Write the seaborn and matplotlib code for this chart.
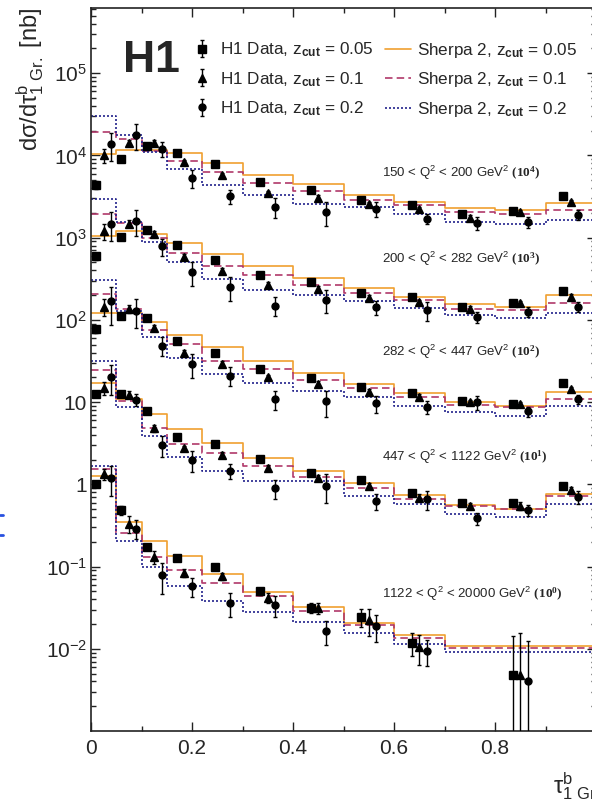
import numpy as np
import matplotlib
matplotlib.use("Agg")
import matplotlib.pyplot as plt
from matplotlib.lines import Line2D
from matplotlib.ticker import (FixedLocator, FixedFormatter, MultipleLocator,
                               LogLocator, NullFormatter, FuncFormatter)
import seaborn as sns

# =================== Data ===================
# bin edges in tau_1^b (the highest Q2 bin merges 0.7-1.0)
edges = [0, 0.05, 0.1, 0.15, 0.22, 0.3, 0.4, 0.5, 0.6, 0.7, 0.8, 0.9, 1.0]
edges_hiq = [0, 0.05, 0.1, 0.15, 0.22, 0.3, 0.4, 0.5, 0.6, 0.7, 1.0]

q2_ranges = ["150 < Q$^2$ < 200 GeV$^2$", "200 < Q$^2$ < 282 GeV$^2$",
             "282 < Q$^2$ < 447 GeV$^2$", "447 < Q$^2$ < 1122 GeV$^2$",
             "1122 < Q$^2$ < 20000 GeV$^2$"]
scale_exp = [4, 3, 2, 1, 0]

# H1 data [nb], one list per Q2 bin
data_z005 = [
    [0.441, 0.904, 1.30, 1.06, 0.794, 0.476, 0.383, 0.284, 0.247, 0.195, 0.210, 0.318],
    [0.590, 1.014, 1.225, 0.804, 0.527, 0.347, 0.287, 0.211, 0.188, 0.142, 0.159, 0.227],
    [0.776, 1.127, 1.045, 0.560, 0.396, 0.253, 0.195, 0.151, 0.130, 0.104, 0.0948, 0.170],
    [1.256, 1.256, 0.771, 0.379, 0.309, 0.206, 0.137, 0.112, 0.0794, 0.060, 0.059, 0.096],
    [1.02, 0.485, 0.1746, 0.126, 0.0989, 0.0505, 0.0316, 0.0243, 0.0118, 0.0048],
]
data_z01 = [
    [1.0, 1.42, 1.42, 0.832, 0.573, 0.345, 0.306, 0.259, 0.225, 0.175, 0.205, 0.270],
    [1.20, 1.476, 1.117, 0.578, 0.391, 0.269, 0.239, 0.185, 0.164, 0.136, 0.159, 0.192],
    [1.45, 1.36, 0.80, 0.396, 0.291, 0.200, 0.166, 0.133, 0.1164, 0.099, 0.0948, 0.1445],
    [1.486, 1.23, 0.479, 0.273, 0.2286, 0.157, 0.121, 0.096, 0.069, 0.0547, 0.0547, 0.0857],
    [1.33, 0.333, 0.131, 0.0843, 0.0769, 0.0418, 0.031, 0.0222, 0.0105, 0.0048],
]
data_z02 = [
    [1.36, 1.79, 1.20, 0.531, 0.320, 0.238, 0.205, 0.225, 0.170, 0.150, 0.155, 0.190],
    [1.476, 1.59, 0.782, 0.380, 0.249, 0.149, 0.175, 0.142, 0.130, 0.108, 0.126, 0.145],
    [1.686, 1.297, 0.486, 0.291, 0.210, 0.109, 0.102, 0.0964, 0.0879, 0.099, 0.0771, 0.109],
    [2.04, 1.07, 0.303, 0.199, 0.146, 0.089, 0.096, 0.0618, 0.066, 0.0387, 0.0485, 0.0705],
    [1.19, 0.290, 0.079, 0.058, 0.0363, 0.034, 0.0164, 0.0189, 0.0094, 0.0041],
]

# relative uncertainties
err_z005 = [
    [0.12, 0.04, 0.04, 0.04, 0.04, 0.04, 0.04, 0.04, 0.04, 0.05, 0.05, 0.06],
    [0.10, 0.04, 0.04, 0.04, 0.04, 0.04, 0.04, 0.04, 0.05, 0.05, 0.05, 0.06],
    [0.10, 0.05, 0.04, 0.04, 0.04, 0.04, 0.04, 0.05, 0.05, 0.05, 0.05, 0.06],
    [0.08, 0.06, 0.05, 0.05, 0.05, 0.05, 0.05, 0.05, 0.06, 0.06, 0.06, 0.07],
    [0.08, 0.12, 0.08, 0.07, 0.08, 0.10, 0.15, 0.24, 0.30, 2.0],
]
err_z01 = [
    [0.20, 0.08, 0.08, 0.07, 0.07, 0.07, 0.07, 0.06, 0.06, 0.07, 0.06, 0.06],
    [0.22, 0.10, 0.08, 0.08, 0.08, 0.07, 0.07, 0.07, 0.07, 0.07, 0.07, 0.07],
    [0.24, 0.10, 0.08, 0.08, 0.08, 0.08, 0.08, 0.08, 0.08, 0.07, 0.07, 0.07],
    [0.17, 0.10, 0.10, 0.08, 0.08, 0.08, 0.08, 0.08, 0.10, 0.08, 0.10, 0.08],
    [0.15, 0.24, 0.18, 0.12, 0.10, 0.15, 0.15, 0.36, 0.40, 2.2],
]
err_z02 = [
    [0.38, 0.35, 0.20, 0.24, 0.19, 0.28, 0.32, 0.20, 0.15, 0.18, 0.15, 0.14],
    [0.39, 0.35, 0.24, 0.32, 0.32, 0.26, 0.30, 0.20, 0.26, 0.15, 0.13, 0.13],
    [0.48, 0.39, 0.26, 0.32, 0.26, 0.26, 0.35, 0.24, 0.18, 0.20, 0.14, 0.13],
    [0.40, 0.17, 0.29, 0.29, 0.20, 0.26, 0.39, 0.22, 0.26, 0.17, 0.16, 0.18],
    [0.40, 0.26, 0.41, 0.26, 0.32, 0.29, 0.32, 0.36, 0.35, 2.0],
]

# Sherpa 2 predictions [nb]
sherpa_z005 = [
    [1.03, 1.17, 1.17, 1.07, 0.80, 0.58, 0.445, 0.327, 0.27, 0.231, 0.219, 0.263],
    [1.035, 1.21, 1.117, 0.867, 0.624, 0.446, 0.321, 0.245, 0.192, 0.157, 0.142, 0.198],
    [1.20, 1.20, 0.935, 0.662, 0.463, 0.319, 0.224, 0.167, 0.128, 0.099, 0.090, 0.131],
    [1.70, 1.09, 0.708, 0.470, 0.318, 0.2085, 0.145, 0.105, 0.0745, 0.0562, 0.0499, 0.0773],
    [1.27, 0.347, 0.2065, 0.1346, 0.0818, 0.0494, 0.0322, 0.0204, 0.0147, 0.0108],
]
sherpa_z01 = [
    [1.91, 1.585, 1.138, 0.865, 0.622, 0.457, 0.366, 0.290, 0.247, 0.205, 0.195, 0.219],
    [1.95, 1.50, 1.0, 0.655, 0.458, 0.347, 0.269, 0.211, 0.175, 0.136, 0.130, 0.159],
    [2.075, 1.36, 0.762, 0.511, 0.319, 0.253, 0.186, 0.1486, 0.1164, 0.0929, 0.0879, 0.109],
    [2.48, 1.04, 0.479, 0.309, 0.237, 0.168, 0.123, 0.090, 0.066, 0.0547, 0.0499, 0.0724],
    [1.53, 0.259, 0.1315, 0.0897, 0.0637, 0.0439, 0.0288, 0.0195, 0.0136, 0.0103],
]
sherpa_z02 = [
    [3.05, 1.77, 1.10, 0.682, 0.436, 0.327, 0.259, 0.236, 0.195, 0.155, 0.148, 0.162],
    [2.92, 1.545, 0.881, 0.504, 0.315, 0.232, 0.198, 0.169, 0.140, 0.113, 0.106, 0.120],
    [3.01, 1.27, 0.614, 0.344, 0.220, 0.170, 0.138, 0.114, 0.0904, 0.075, 0.0682, 0.0904],
    [3.19, 0.879, 0.390, 0.216, 0.146, 0.110, 0.110, 0.0724, 0.0574, 0.0441, 0.0402, 0.0574],
    [1.68, 0.2065, 0.0984, 0.0573, 0.0381, 0.0282, 0.0213, 0.0157, 0.0115, 0.0091],
]

ytick_vals = [1e-2, 1e-1, 1, 10, 1e2, 1e3, 1e4, 1e5]
ytick_labels = ["$10^{-2}$", "$10^{-1}$", "1", "10", "$10^{2}$", "$10^{3}$",
                "$10^{4}$", "$10^{5}$"]

data_labels = [r"H1 Data, z$_{\mathbf{cut}}$ = 0.05",
               r"H1 Data, z$_{\mathbf{cut}}$ = 0.1",
               r"H1 Data, z$_{\mathbf{cut}}$ = 0.2"]
mc_labels = [r"Sherpa 2, z$_{\mathbf{cut}}$ = 0.05",
             r"Sherpa 2, z$_{\mathbf{cut}}$ = 0.1",
             r"Sherpa 2, z$_{\mathbf{cut}}$ = 0.2"]

# =================== Style ===================
sns.set_style("ticks")
plt.rcParams["font.family"] = ["Liberation Sans", "DejaVu Sans"]
plt.rcParams["mathtext.fontset"] = "custom"
plt.rcParams["mathtext.rm"] = "Liberation Sans"
plt.rcParams["mathtext.it"] = "Liberation Sans:italic"
plt.rcParams["mathtext.bf"] = "Liberation Sans:bold"
plt.rcParams["mathtext.sf"] = "Liberation Serif:bold"

mc_colors = ["#F0A030", "#B0386A", "#22228C"]
mc_dashes = ["-", (0, (4.5, 2.5)), (0, (1.2, 1.2))]
mk_styles = [("s", 5.2), ("^", 5.2), ("o", 5.0)]
offsets = [-0.015, 0.0, 0.015]

fig = plt.figure(figsize=(5.92, 8.02), dpi=100)
ax = fig.add_axes([91 / 592, 71 / 802, 505 / 592, 723 / 802])
ax.set_yscale("log")

data_sets = [data_z005, data_z01, data_z02]
err_sets = [err_z005, err_z01, err_z02]
mc_sets = [sherpa_z005, sherpa_z01, sherpa_z02]

legend_handles = []
for i in range(5):
    e = np.array(edges if i < 4 else edges_hiq)
    centres = (e[:-1] + e[1:]) / 2
    scale = 10.0 ** scale_exp[i]

    # Sherpa histograms
    for mc, col, ls in zip(mc_sets, mc_colors, mc_dashes):
        y = np.array(mc[i]) * scale
        sns.lineplot(x=e, y=np.append(y, y[-1]), drawstyle="steps-post",
                     color=col, linestyle=ls, lw=1.2, sort=False,
                     estimator=None, ax=ax)

    # H1 data
    for k in range(3):
        y = np.array(data_sets[k][i]) * scale
        yerr = y * np.array(err_sets[k][i])
        m, ms = mk_styles[k]
        cont = ax.errorbar(centres + offsets[k], y, yerr=yerr, fmt=m, ms=ms,
                           color="black", mec="black", elinewidth=1.0,
                           capsize=1.6, capthick=1.0, zorder=5)
        if i == 0:
            legend_handles.append(cont)

    ax.text(0.5757, [0.7722, 0.6528, 0.5238, 0.3786, 0.1895][i],
            q2_ranges[i] + r" $\mathsf{(10^{%d})}$" % scale_exp[i],
            transform=ax.transAxes, fontsize=9.5, va="center", ha="left")

for col, ls in zip(mc_colors, mc_dashes):
    legend_handles.append(Line2D([], [], color=col, linestyle=ls, lw=1.2))

ax.legend(legend_handles, data_labels + mc_labels, ncol=2, loc="upper left",
          bbox_to_anchor=(0.1935, 0.955), frameon=False, fontsize=12.3,
          handlelength=1.5, handletextpad=0.35, columnspacing=0.66,
          labelspacing=0.62, borderpad=0, borderaxespad=0)

ax.text(0.0634, 0.9115, "H1", transform=ax.transAxes, fontsize=32,
        fontweight="bold", ha="left", va="baseline")

# =================== Axes ===================
ax.set_xlim(0, 1)
ax.set_ylim(1e-3, 6.2e5)
ax.set_xlabel("")
ax.set_ylabel("")
ax.xaxis.set_major_locator(MultipleLocator(0.2))
ax.xaxis.set_minor_locator(MultipleLocator(0.1))
# the "1" label falls outside the cropped picture
ax.xaxis.set_major_formatter(FuncFormatter(lambda v, p: "" if v > 0.95 else f"{v:g}"))
ax.yaxis.set_major_locator(FixedLocator(ytick_vals))
ax.yaxis.set_major_formatter(FixedFormatter(ytick_labels))
ax.yaxis.set_minor_locator(LogLocator(base=10, subs=np.arange(2, 10), numticks=40))
ax.yaxis.set_minor_formatter(NullFormatter())
ax.tick_params(which="both", direction="in", top=True, right=True,
               width=1.0, color="#222222", labelsize=15)
ax.tick_params(which="major", length=6.5)
ax.tick_params(axis="y", which="major", pad=3)
ax.tick_params(axis="x", which="major", pad=6)
ax.tick_params(which="minor", length=3.6)
for sp in ax.spines.values():
    sp.set_linewidth(1.2)
    sp.set_color("#222222")

fig.text(30 / 592, 0.99, r"d$\mathrm{\sigma}$/d$\mathrm{\tau}^{\mathrm{b}}_{1\ \mathrm{Gr.}}$ [nb]",
         rotation=90, fontsize=17, ha="center", va="top")
fig.text(553 / 592, 9 / 802, r"$\mathrm{\tau}^{\mathrm{b}}_{1\ \mathrm{Gr.}}$",
         fontsize=17, ha="left", va="baseline")

# small blue marks at the left edge of the cropped original
for yy in (515, 535):
    fig.add_artist(Line2D([0, 3 / 592], [1 - yy / 802] * 2, color="#2850E0", lw=2))

fig.savefig("out.png", dpi=100)
